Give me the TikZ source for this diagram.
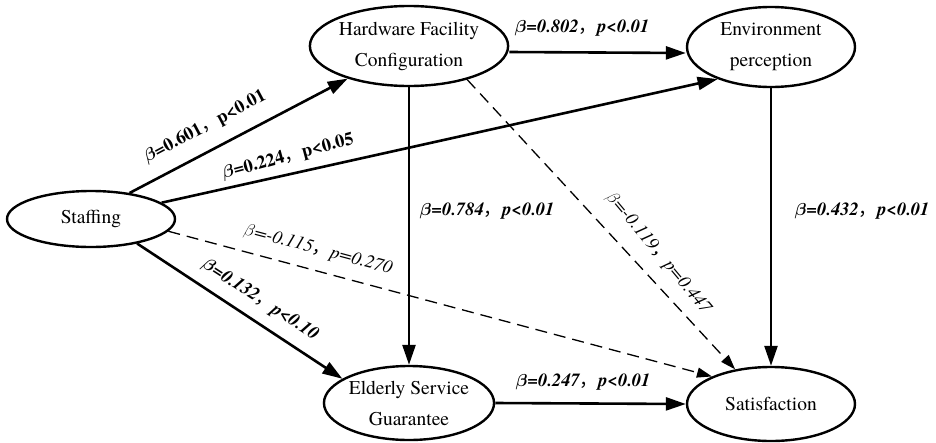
\documentclass[tikz,border=0pt]{standalone}
\usepackage{bm}
\usepackage{fontspec}
\setmainfont{TeX Gyre Termes}
\newfontfamily\cjkfont{Noto Sans CJK SC}
\usetikzlibrary{shapes.geometric,arrows.meta}
\newcommand{\zcomma}{{\cjkfont\mdseries\upshape ，}}
\newcommand{\bbt}{$\bm{\beta}$}
\newcommand{\rbt}{$\beta$}
\tikzset{
  latent/.style={ellipse, draw, line width=2.4pt, minimum width=168pt, inner sep=0pt, align=center, font=\fontsize{19.5}{31}\selectfont},
  sig/.style={line width=2.6pt, -{Triangle[length=20pt,width=13pt]}},
  nsig/.style={line width=1.3pt, dash pattern=on 12pt off 7pt, -{Triangle[length=15pt,width=10pt]}},
  boldlab/.style={font=\fontsize{18.5}{20}\selectfont\bfseries\itshape, inner sep=0pt},
  uplab/.style={font=\fontsize{18.5}{20}\selectfont\bfseries, inner sep=0pt},
  reglab/.style={font=\fontsize{18.5}{20}\selectfont\itshape, inner sep=0pt}
}
\begin{document}
\begin{tikzpicture}[x=1pt,y=-1pt]
\useasboundingbox (0,0) rectangle (936,442);
\node[latent, minimum height=56pt] (staff) at (91,219) {Staffing};
\node[latent, minimum height=80pt] (hw) at (409,46) {Hardware Facility\\Configuration};
\node[latent, minimum height=80pt] (env) at (771,47) {Environment\\perception};
\node[latent, minimum height=74pt] (esg) at (409,403) {Elderly Service\\Guarantee};
\node[latent, minimum height=74pt] (sat) at (771,404) {Satisfaction};

\draw[sig] (staff.34) -- (hw.208);
\draw[sig] (staff.13) -- (env.211);
\draw[sig] ([yshift=-6pt]hw.east) -- ([yshift=-6pt]env.west);
\draw[sig] (hw) -- (esg);
\draw[sig] (env) -- (sat);
\draw[sig] (esg.east) -- (sat.west);
\draw[sig] (staff.332) -- (esg.160);
\draw[nsig] (staff.351) -- (sat.155);
\draw[nsig] (hw.330) -- (sat.136);

\node[uplab, rotate=28] (l601) at (205,127) {\bbt=0.601\zcomma p<0.01};
\node[uplab, rotate=15] (l224) at (288,157) {\bbt=0.224\zcomma p<0.05};
\node[boldlab] (l802) at (582,28) {\bbt=0.802\zcomma p<0.01};
\node[boldlab] (l784) at (487,211) {\bbt=0.784\zcomma p<0.01};
\node[boldlab] (l432) at (862,211) {\bbt=0.432\zcomma p<0.01};
\node[boldlab] (l247) at (583,382) {\bbt=0.247\zcomma p<0.01};
\node[boldlab, rotate=-33] (l132) at (260,300) {\bbt=0.132\zcomma p<0.10};
\node[reglab, rotate=-15] (l115) at (318,250) {\rbt=-0.115\zcomma p=0.270};
\node[reglab, rotate=-50] (l119) at (658,253) {\rbt=-0.119\zcomma p=0.447};
\end{tikzpicture}
\end{document}
